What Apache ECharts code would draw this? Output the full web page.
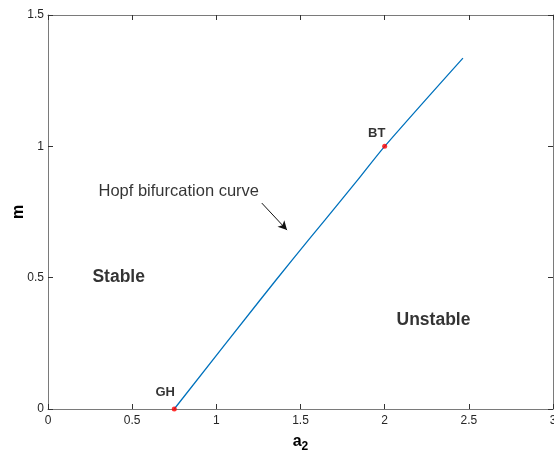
<!DOCTYPE html>
<html>
<head>
<meta charset="utf-8">
<script src="https://cdn.jsdelivr.net/npm/echarts@6/dist/echarts.min.js"></script>
<style>
  html, body { margin: 0; padding: 0; background: #fff; }
  #chart { width: 554px; height: 457px; }
</style>
</head>
<body>
<div id="chart"></div>
<script>
// Hopf bifurcation curve in (a2, m) plane
const hopfA2 = [0.75, 1.26, 1.45, 1.646, 1.84, 2.0, 2.465];
const hopfM = [0, 0.415, 0.567, 0.72, 0.872, 1.0, 1.336];
const specialPoints = [
  { name: 'GH', a2: 0.75, m: 0 },
  { name: 'BT', a2: 2.0, m: 1.0 },
];
const regionLabels = [
  { text: 'Stable', a2: 0.42, m: 0.5 },
  { text: 'Unstable', a2: 2.29, m: 0.34 },
];
const xTicks = [0, 0.5, 1, 1.5, 2, 2.5, 3];
const yTicks = [0, 0.5, 1, 1.5];

const axisColor = '#7a7a7a';
const font = 'Liberation Sans, Arial, sans-serif';

const chart = echarts.init(document.getElementById('chart'));

const baseX = {
  type: 'value',
  min: 0,
  max: 3,
  interval: 0.5,
  axisLine: { show: true, onZero: false, lineStyle: { color: axisColor, width: 1 } },
  axisTick: { show: true, inside: true, length: 5, lineStyle: { color: '#333' } },
  splitLine: { show: false },
};
const baseY = {
  type: 'value',
  min: 0,
  max: 1.5,
  interval: 0.5,
  axisLine: { show: true, onZero: false, lineStyle: { color: axisColor, width: 1 } },
  axisTick: { show: true, inside: true, length: 5, lineStyle: { color: '#333' } },
  splitLine: { show: false },
};

chart.setOption({
  animation: false,
  grid: { left: 48, right: 1, top: 15, bottom: 48, containLabel: false, outerBoundsMode: 'none' },
  xAxis: [
    {
      ...baseX,
      position: 'bottom',
      name: '{a|a}{s|2}',
      nameLocation: 'middle',
      nameGap: 22,
      nameTextStyle: {
        rich: {
          a: { fontFamily: font, fontWeight: 'bold', fontSize: 16, color: '#000' },
          s: { fontFamily: font, fontWeight: 'bold', fontSize: 12, color: '#000', verticalAlign: 'bottom', padding: [10, 0, 0, 0] },
        },
      },
      axisLabel: {
        color: '#262626',
        fontFamily: font,
        fontSize: 12,
        margin: 6,
        formatter: (v) => (xTicks.includes(v) ? String(v) : ''),
      },
    },
    { ...baseX, position: 'top', axisLabel: { show: false } },
  ],
  yAxis: [
    {
      ...baseY,
      position: 'left',
      name: 'm',
      nameLocation: 'middle',
      nameGap: 21,
      nameMoveOverlap: false,
      nameTextStyle: { fontFamily: font, fontWeight: 'bold', fontSize: 16, color: '#000' },
      axisLabel: {
        color: '#262626',
        fontFamily: font,
        fontSize: 12,
        margin: 4,
        formatter: (v) => (yTicks.includes(v) ? String(v) : ''),
      },
    },
    { ...baseY, position: 'right', axisLabel: { show: false } },
  ],
  series: [
    {
      name: 'Hopf',
      type: 'line',
      data: hopfA2.map((a, i) => [a, hopfM[i]]),
      showSymbol: false,
      smooth: 0.3,
      lineStyle: { color: '#0072BD', width: 1.3 },
      z: 2,
      markLine: {
        silent: true,
        symbol: ['none', 'arrow'],
        symbolSize: [7, 9],
        lineStyle: { color: '#111', width: 1, type: 'solid' },
        label: { show: false },
        data: [[{ coord: [1.27, 0.784] }, { coord: [1.42, 0.681] }]],
      },
    },
    {
      name: 'points',
      type: 'scatter',
      data: specialPoints.map((p) => ({
        value: [p.a2, p.m],
        name: p.name,
        label: { offset: p.name === 'BT' ? [-8, 1] : [-9, -3] },
      })),
      symbolSize: 5,
      itemStyle: { color: '#ff0000' },
      z: 3,
      label: {
        show: true,
        formatter: (p) => p.name,
        fontFamily: font,
        fontWeight: 'bold',
        fontSize: 13,
        color: '#000',
        position: 'top',
      },
    },
    {
      name: 'regions',
      type: 'scatter',
      data: regionLabels.map((r) => ({ value: [r.a2, r.m], name: r.text })),
      symbolSize: 0,
      label: {
        show: true,
        position: 'inside',
        formatter: (p) => p.name,
        fontFamily: font,
        fontWeight: 'bold',
        fontSize: 17.5,
        color: '#000',
      },
    },
    {
      name: 'annotation',
      type: 'scatter',
      data: [{ value: [0.3, 0.83], name: 'Hopf bifurcation curve' }],
      symbolSize: 0,
      label: {
        show: true,
        position: 'right',
        distance: 0,
        formatter: (p) => p.name,
        fontFamily: font,
        fontSize: 16.5,
        color: '#000',
      },
    },
  ],
});
</script>
</body>
</html>
